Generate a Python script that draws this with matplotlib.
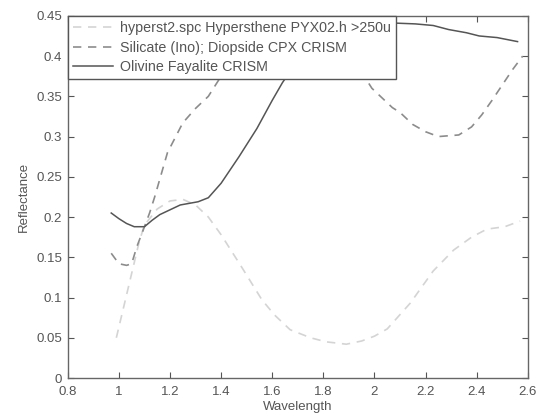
import matplotlib
matplotlib.use("Agg")
import matplotlib.pyplot as plt
import numpy as np

# Hypersthene (light dashed)
hyp_x = [0.99, 1.02, 1.05, 1.08, 1.1, 1.15, 1.2, 1.25, 1.3, 1.35, 1.4, 1.48, 1.56, 1.61, 1.67,
         1.75, 1.81, 1.89, 1.95, 2.0, 2.05, 2.14, 2.23, 2.31, 2.38, 2.44, 2.51, 2.57]
hyp_y = [0.05, 0.09, 0.13, 0.17, 0.19, 0.21, 0.22, 0.222, 0.215, 0.2, 0.178, 0.138, 0.097, 0.078, 0.06,
         0.05, 0.045, 0.042, 0.046, 0.052, 0.061, 0.093, 0.133, 0.159, 0.175, 0.185, 0.188, 0.195]

# Diopside (medium dashed)
dio_x = [0.97, 1.0, 1.03, 1.05, 1.07, 1.1, 1.12, 1.14, 1.19, 1.25, 1.3, 1.35, 1.38, 1.45, 1.55,
         1.65, 1.75, 1.85, 1.93, 1.99, 2.07, 2.1, 2.15, 2.2, 2.25, 2.33, 2.38, 2.42, 2.46, 2.5, 2.54, 2.58]
dio_y = [0.155, 0.142, 0.14, 0.142, 0.163, 0.188, 0.205, 0.225, 0.28, 0.317, 0.335, 0.35, 0.365, 0.4, 0.43,
         0.445, 0.44, 0.42, 0.39, 0.36, 0.336, 0.33, 0.315, 0.306, 0.30, 0.302, 0.312, 0.327, 0.345, 0.364, 0.383, 0.40]

# Olivine (solid)
oli_x = [0.97, 1.0, 1.03, 1.06, 1.1, 1.13, 1.16, 1.2, 1.24, 1.31, 1.35, 1.4, 1.47, 1.54, 1.6,
         1.64, 1.7, 1.8, 1.9, 2.0, 2.08, 2.16, 2.23, 2.29, 2.36, 2.41, 2.48, 2.56]
oli_y = [0.205, 0.198, 0.192, 0.188, 0.188, 0.196, 0.203, 0.209, 0.215, 0.219, 0.224, 0.242, 0.275, 0.31, 0.345,
         0.367, 0.395, 0.425, 0.44, 0.444, 0.441, 0.44, 0.438, 0.433, 0.429, 0.425, 0.423, 0.418]

labels = ["hyperst2.spc Hypersthene PYX02.h >250u",
          "Silicate (Ino); Diopside CPX CRISM",
          "Olivine Fayalite CRISM"]

xticks = [0.8, 1.0, 1.2, 1.4, 1.6, 1.8, 2.0, 2.2, 2.4, 2.6]
xticklabels = ["0.8", "1", "1.2", "1.4", "1.6", "1.8", "2", "2.2", "2.4", "2.6"]
yticks = [0, 0.05, 0.1, 0.15, 0.2, 0.25, 0.3, 0.35, 0.4, 0.45]
yticklabels = ["0", "0.05", "0.1", "0.15", "0.2", "0.25", "0.3", "0.35", "0.4", "0.45"]

plt.rcParams['font.family'] = ['Liberation Sans', 'DejaVu Sans']
txt = '#555555'
fig = plt.figure(figsize=(5.38, 4.17), dpi=100)
ax = fig.add_axes([0.126, 0.0935, 0.855, 0.8685])

ax.plot(hyp_x, hyp_y, color='#d4d4d4', lw=1.2, ls=(0, (5, 4)), label=labels[0])
ax.plot(dio_x, dio_y, color='#8c8c8c', lw=1.2, ls=(0, (5, 4)), label=labels[1])
ax.plot(oli_x, oli_y, color='#555555', lw=1.1, ls='-', label=labels[2])

ax.set_xlim(0.8, 2.6)
ax.set_ylim(0, 0.45)
ax.set_xticks(xticks)
ax.set_xticklabels(xticklabels)
ax.set_yticks(yticks)
ax.set_yticklabels(yticklabels)
ax.tick_params(direction='in', top=True, right=True, labelsize=9.5, colors=txt, length=4, width=0.8)
ax.tick_params(axis='x', pad=6)
ax.tick_params(axis='y', pad=4)
for s in ax.spines.values():
    s.set_color('#666666')
    s.set_linewidth(1.0)
ax.set_xlabel("Wavelength", fontsize=9.5, color=txt, labelpad=2)
ax.set_ylabel("Reflectance", fontsize=9.5, color=txt, labelpad=5)

leg = ax.legend(loc='upper left', fontsize=10.3, frameon=True, fancybox=False,
                borderaxespad=0, handlelength=2.8, handletextpad=0.5, borderpad=0.35,
                labelspacing=0.4, framealpha=1, edgecolor='#555555')
for t in leg.get_texts():
    t.set_color(txt)
leg.get_frame().set_linewidth(1.0)

fig.savefig("out.png", dpi=100)
